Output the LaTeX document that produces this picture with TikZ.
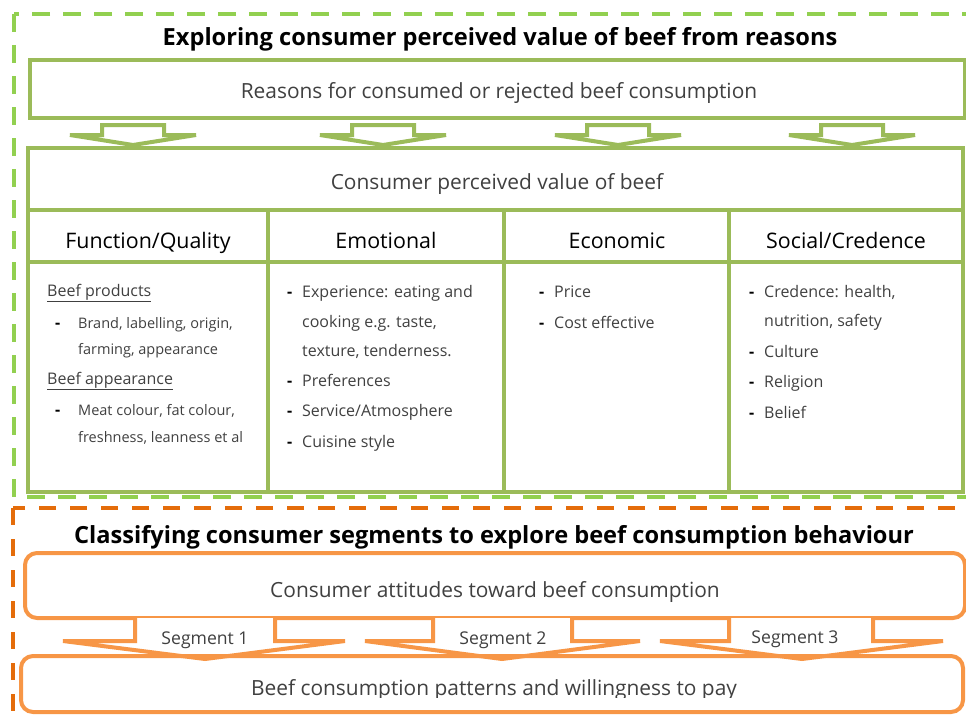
\documentclass[tikz,border=0pt]{standalone}
\usepackage{fontspec}
\setmainfont{Open Sans}
\definecolor{gboxc}{HTML}{9BBB59}
\definecolor{gdash}{HTML}{92D050}
\definecolor{oboxc}{HTML}{F79646}
\definecolor{odash}{HTML}{E46C0A}
\definecolor{txt}{HTML}{404040}
\begin{document}
\begin{tikzpicture}[x=1pt,y=-1pt,
  gbox/.style={draw=gboxc, line width=4pt},
  obox/.style={draw=oboxc, line width=4pt, rounded corners=12pt},
  gframe/.style={draw=gdash, line width=4pt, dash pattern=on 18pt off 13pt},
  oframe/.style={draw=odash, line width=4pt, dash pattern=on 17pt off 14pt},
  garrow/.style={draw=gboxc, fill=white, line width=4pt, line join=miter},
  oarrow/.style={draw=oboxc, fill=white, line width=4pt, line join=miter},
  titletext/.style={anchor=base, inner sep=0pt, font=\fontsize{23.6}{28}\selectfont\bfseries, text=black},
  boxtext/.style={anchor=base, inner sep=0pt, font=\fontsize{20.9}{25}\selectfont, text=txt},
  headtext/.style={anchor=base, inner sep=0pt, font=\fontsize{21.4}{25}\selectfont, text=black},
  itemtext/.style={anchor=base west, inner sep=0pt, font=\fontsize{16}{20}\selectfont, text=txt},
  subtext/.style={anchor=base west, inner sep=0pt, font=\fontsize{14.5}{18}\selectfont, text=txt},
  dashmark/.style={anchor=base west, inner sep=0pt, font=\fontsize{16}{20}\selectfont\bfseries, text=black},
  segtext/.style={anchor=base, inner sep=0pt, font=\fontsize{17.6}{20}\selectfont, text=txt}
]
\useasboundingbox (0,0) rectangle (966,717);

% outer dashed frames
\draw[gframe] (14,14) rectangle (975,497);
\draw[oframe] (13,508) rectangle (975,730);

% ---------- upper part ----------
\node[titletext] (title1) at (500,46) {Exploring consumer perceived value of beef from reasons};

\draw[gbox] (30,60) rectangle (965,118);
\node[boxtext] (reasons) at (499,99) {Reasons for consumed or rejected beef consumption};

% block arrows (green)
\foreach \c/\n in {133/ga1,383/ga2,618/ga3,852/ga4}{
  \coordinate (\n) at (\c,145);
  \draw[garrow] (\c-31,125) -- (\c+31,125) -- (\c+31,135) -- (\c+63,135)
     -- (\n) -- (\c-63,135) -- (\c-31,135) -- cycle;
}

% perceived value table
\draw[gbox] (28,148) rectangle (963,492);
\draw[gbox] (28,210) -- (963,210);
\draw[gbox] (28,262) -- (963,262);
\draw[gbox] (268,210) -- (268,492);
\draw[gbox] (504,210) -- (504,492);
\draw[gbox] (729,210) -- (729,492);
\node[boxtext] (cpv) at (497,189) {Consumer perceived value of beef};

\node[headtext] (h1) at (148,248) {Function/Quality};
\node[headtext] (h2) at (386,248) {Emotional};
\node[headtext] (h3) at (617,248) {Economic};
\node[headtext] (h4) at (846,248) {Social/Credence};

% column 1
\node[itemtext] (c1a) at (47,296) {\underline{Beef products}};
\node[dashmark] (c1bd) at (55,328) {-};
\node[subtext] (c1b) at (78,328) {Brand, labelling, origin,};
\node[subtext] (c1c) at (78,354) {farming, appearance};
\node[itemtext] (c1d) at (47,384) {\underline{Beef appearance}};
\node[dashmark] (c1ed) at (55,415) {-};
\node[subtext] (c1e) at (78,415) {Meat colour, fat colour,};
\node[subtext] (c1f) at (78,442) {freshness, leanness et al};

% column 2
\node[dashmark] (c2ad) at (287,297) {-};
\node[itemtext] (c2a) at (302,297) {Experience: eating and};
\node[itemtext] (c2b) at (302,327) {cooking e.g. taste,};
\node[itemtext] (c2c) at (302,356) {texture, tenderness.};
\node[dashmark] (c2dd) at (287,386) {-};
\node[itemtext] (c2d) at (302,386) {Preferences};
\node[dashmark] (c2ed) at (287,416) {-};
\node[itemtext] (c2e) at (302,416) {Service/Atmosphere};
\node[dashmark] (c2fd) at (287,447) {-};
\node[itemtext] (c2f) at (302,447) {Cuisine style};

% column 3
\node[dashmark] (c3ad) at (539,297) {-};
\node[itemtext] (c3a) at (554,297) {Price};
\node[dashmark] (c3bd) at (539,328) {-};
\node[itemtext] (c3b) at (554,328) {Cost effective};

% column 4
\node[dashmark] (c4ad) at (749,297) {-};
\node[itemtext] (c4a) at (764,297) {Credence: health,};
\node[itemtext] (c4b) at (764,326) {nutrition, safety};
\node[dashmark] (c4cd) at (749,357) {-};
\node[itemtext] (c4c) at (764,357) {Culture};
\node[dashmark] (c4dd) at (749,387) {-};
\node[itemtext] (c4d) at (764,387) {Religion};
\node[dashmark] (c4ed) at (749,418) {-};
\node[itemtext] (c4e) at (764,418) {Belief};

% ---------- lower part ----------
\node[titletext] (title2) at (494,543) {Classifying consumer segments to explore beef consumption behaviour};

\draw[obox] (25,553) rectangle (965,618);
\node[boxtext] (attitudes) at (495,597) {Consumer attitudes toward beef consumption};

% segment arrows (orange)
\foreach \wl/\sl/\sr/\wr/\t/\n in {63/135/275/345/205/oa1, 365/433/572/640/502/oa2, 660/729/873/943/802/oa3}{
  \coordinate (\n) at (\t,659);
  \draw[oarrow] (\sl,618) -- (\sl,641) -- (\wl,641) -- (\n) -- (\wr,641) -- (\sr,641) -- (\sr,618);
}
\node[segtext] (seg1) at (205,644) {Segment 1};
\node[segtext] (seg2) at (503,644) {Segment 2};
\node[segtext] (seg3) at (795,643) {Segment 3};

\draw[obox] (21,656) rectangle (963,712);
\begin{scope}
  \clip (0,0) rectangle (966,697);
  \node[boxtext] (patterns) at (494,695) {Beef consumption patterns and willingness to pay};
\end{scope}
\end{tikzpicture}
\end{document}
